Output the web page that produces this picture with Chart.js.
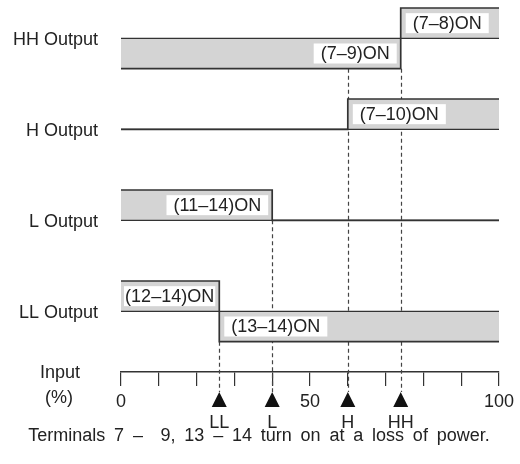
<!DOCTYPE html>
<html>
<head>
<meta charset="utf-8">
<script src="https://cdn.jsdelivr.net/npm/chart.js@4"></script>
<style>
  body { margin: 0; background: #fff; }
  #wrap { width: 520px; height: 464px; }
</style>
</head>
<body>
<div id="wrap"><canvas id="myChart"></canvas></div>
<script>
// outputs, top to bottom
const rowNames = ['HH Output', 'H Output', 'L Output', 'LL Output']
const switchAt = [74, 60, 40, 26]          // input % where the output changes
const stateBefore = [-1, 0, 1, 1]           // +1 band above line, -1 below, 0 none
const stateAfter = [1, 1, 0, -1]
const labelBefore = ['(7–9)ON', '', '(11–14)ON', '(12–14)ON']
const labelAfter = ['(7–8)ON', '(7–10)ON', '', '(13–14)ON']

// set points on the input scale
const setpointNames = ['LL', 'L', 'H', 'HH']
const setpointValues = [26, 40, 60, 74]
const guideFrom = ['LL Output', 'L Output', 'HH Output', 'HH Output']

const inputTicks = [0, 50, 100]
const caption = 'Terminals 7 –  9, 13 – 14 turn on at a loss of power.'

const LINE = '#333'
const FILL = '#d4d4d4'
const TEXT = '#222'
const BAND = 1 / 3
const FONT = "'Liberation Sans', Arial, sans-serif"

Chart.defaults.font.family = FONT
Chart.defaults.font.size = 18
Chart.defaults.color = TEXT

const rowLevel = i => rowNames.length - 1 - i

const datasets = []
rowNames.forEach((name, i) => {
    const base = rowLevel(i)
    // baseline across the whole range
    datasets.push({
        label: name + ' line',
        data: [{ x: 0, y: base }, { x: 100, y: base }],
        borderColor: LINE,
        borderWidth: 1.4,
        pointRadius: 0,
        fill: false,
        clip: false
    })
})
rowNames.forEach((name, i) => {
    const base = rowLevel(i)
    const b = base + stateBefore[i] * BAND
    const a = base + stateAfter[i] * BAND
    datasets.push({
        label: name,
        data: [{ x: 0, y: b }, { x: switchAt[i], y: b }, { x: switchAt[i], y: a }, { x: 100, y: a }],
        borderColor: LINE,
        borderWidth: 1.7,
        backgroundColor: FILL,
        fill: { target: { value: base } },
        pointRadius: 0,
        clip: false
    })
})

// dashed guide lines under everything
const guides = {
    id: 'guides',
    beforeDatasetsDraw(chart) {
        const { ctx, chartArea, scales: { x, y } } = chart
        const end = chartArea.bottom + 20
        ctx.save()
        ctx.strokeStyle = '#444'
        ctx.lineWidth = 1.2
        ctx.setLineDash([4, 3])
        setpointValues.forEach((v, k) => {
            const r = rowNames.indexOf(guideFrom[k])
            const low = rowLevel(r) + Math.min(0, stateBefore[r], stateAfter[r]) * BAND
            const px = Math.round(x.getPixelForValue(v)) + 0.5
            ctx.beginPath()
            ctx.moveTo(px, y.getPixelForValue(low))
            ctx.lineTo(px, end)
            ctx.stroke()
        })
        ctx.restore()
    }
}

// ON labels, set point markers, captions
const annotations = {
    id: 'annotations',
    afterDatasetsDraw(chart) {
        const { ctx, chartArea, scales: { x, y } } = chart
        ctx.save()
        ctx.setLineDash([])
        ctx.font = '18px ' + FONT
        ctx.textBaseline = 'middle'
        ctx.textAlign = 'center'

        const tag = (text, edge, side, mid) => {
            if (!text) return
            let w = ctx.measureText(text).width + 14
            let left = side < 0 ? edge - 4 - w : edge + 5
            if (left < chartArea.left + 3) {
                w -= chartArea.left + 3 - left
                left = chartArea.left + 3
            }
            ctx.fillStyle = '#fff'
            ctx.fillRect(left, mid - 10, w, 20)
            ctx.fillStyle = TEXT
            ctx.fillText(text, left + w / 2, mid + 1)
        }
        rowNames.forEach((name, i) => {
            const base = rowLevel(i)
            const edge = x.getPixelForValue(switchAt[i])
            tag(labelBefore[i], edge, -1, y.getPixelForValue(base + stateBefore[i] * BAND / 2))
            tag(labelAfter[i], edge, 1, y.getPixelForValue(base + stateAfter[i] * BAND / 2))
        })

        // triangles and names
        const bottom = chartArea.bottom
        setpointValues.forEach((v, k) => {
            const px = x.getPixelForValue(v)
            ctx.fillStyle = '#111'
            ctx.beginPath()
            ctx.moveTo(px, bottom + 20)
            ctx.lineTo(px + 7.5, bottom + 35)
            ctx.lineTo(px - 7.5, bottom + 35)
            ctx.closePath()
            ctx.fill()
            ctx.fillStyle = TEXT
            ctx.fillText(setpointNames[k], px, bottom + 51)
        })

        ctx.fillText('Input', 60, bottom + 1)
        ctx.fillText('(%)', 59, bottom + 26)
        ctx.wordSpacing = '3.8px'
        ctx.fillText(caption, 259, bottom + 64)
        ctx.restore()
    }
}

const ctx = document.getElementById('myChart')
const chart = new Chart(ctx, {
    type: 'line',
    data: { datasets: datasets },
    options: {
        animation: false,
        responsive: true,
        maintainAspectRatio: false,
        layout: { padding: { top: 8, right: 21, left: 0, bottom: 0 } },
        plugins: {
            legend: { display: false },
            tooltip: { enabled: false }
        },
        scales: {
            x: {
                type: 'linear',
                min: 0,
                max: 100,
                ticks: {
                    stepSize: 10,
                    autoSkip: false,
                    maxRotation: 0,
                    padding: 5,
                    color: TEXT,
                    callback: v => inputTicks.includes(v) ? String(v) : ''
                },
                grid: { drawOnChartArea: false, tickLength: 14, color: LINE, lineWidth: 1.2 },
                border: { color: LINE, width: 1.4 },
                afterFit: s => { s.height = 92 }
            },
            y: {
                type: 'linear',
                min: -2 / 3,
                max: 10 / 3,
                afterBuildTicks: s => { s.ticks = rowNames.map((n, i) => ({ value: rowLevel(i) })) },
                ticks: {
                    padding: 23,
                    labelOffset: 2,
                    color: TEXT,
                    callback: v => rowNames[rowLevel(v)]
                },
                grid: { display: false, drawTicks: false },
                border: { display: false },
                afterFit: s => { s.width = 121; s.paddingTop = 0; s.paddingBottom = 0 }
            }
        }
    },
    plugins: [guides, annotations]
})
</script>
</body>
</html>
